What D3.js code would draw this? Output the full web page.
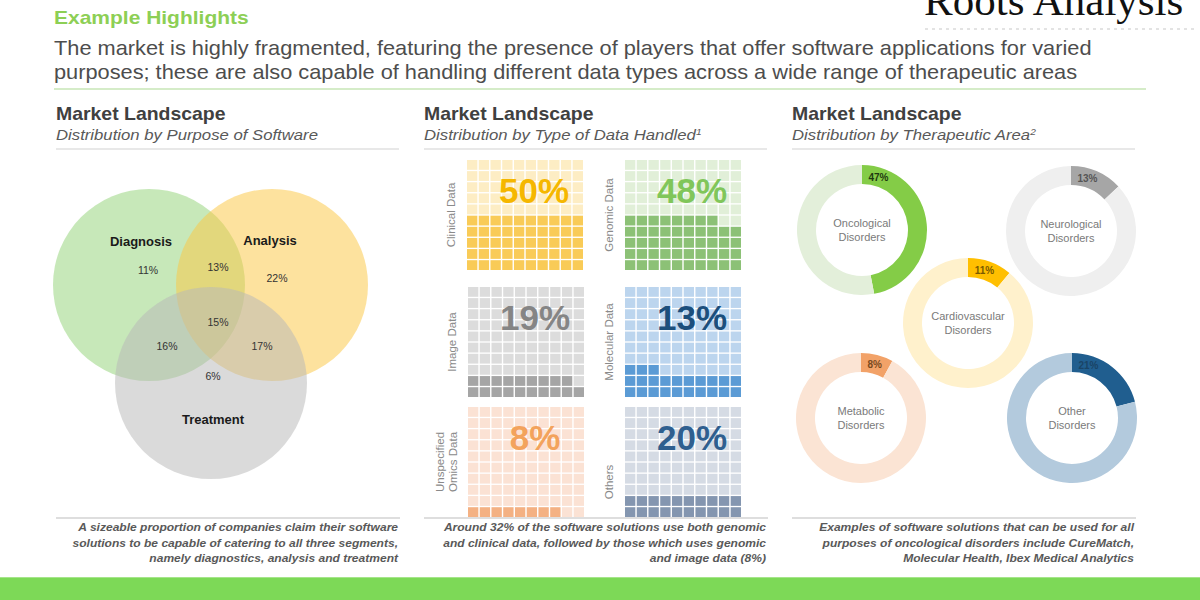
<!DOCTYPE html>
<html>
<head>
<meta charset="utf-8">
<script src="https://cdn.jsdelivr.net/npm/d3@7"></script>
<style>
  html, body { margin: 0; padding: 0; background: #ffffff; }
  svg { display: block; font-family: "Liberation Sans", Arial, sans-serif; }
</style>
</head>
<body>
<svg id="chart" width="1200" height="600"></svg>
<script>
// ---------------- DATA ----------------
const headline = "Example Highlights";
const summaryLines = [
  "The market is highly fragmented, featuring the presence of players that offer software applications for varied",
  "purposes; these are also capable of handling different data types across a wide range of therapeutic areas"
];

// Panel 1 – Venn (purpose of software)
const vennSets = ["Diagnosis", "Analysis", "Treatment"];
const vennRegions = ["D", "DA", "A", "DAT", "DT", "AT", "T"];
const vennRegionValues = [11, 13, 22, 15, 16, 17, 6];

// Panel 2 – Waffles (type of data handled)
const dataTypes = ["Clinical Data", "Genomic Data", "Image Data", "Molecular Data", "Unspecified Omics Data", "Others"];
const dataShares = [50, 48, 19, 13, 8, 20];
const dataCellsDrawn = [50, 48, 19, 23, 8, 20];   // filled cells as shown in the picture

// Panel 3 – Donuts (therapeutic area)
const areas = ["Oncological Disorders", "Neurological Disorders", "Cardiovascular Disorders", "Metabolic Disorders", "Other Disorders"];
const areaShares = [47, 13, 11, 8, 21];

const footnotes = [
  ["A sizeable proportion of companies claim their software", "solutions to be capable of catering to all three segments,", "namely diagnostics, analysis and treatment"],
  ["Around 32% of the software solutions use both genomic", "and clinical data, followed by those which uses genomic", "and image data (8%)"],
  ["Examples of software solutions that can be used for all", "purposes of oncological disorders include CureMatch,", "Molecular Health, Ibex Medical Analytics"]
];

// ---------------- DRAW ----------------
const svg = d3.select("#chart");

// horizontally stretched text helper (anchor point stays fixed)
function stretchText(parent, x, y, sx, str) {
  return parent.append("g").attr("transform", `translate(${x},${y}) scale(${sx},1)`)
    .append("text").attr("x", 0).attr("y", 0).text(str);
}

// logo
svg.append("text").attr("x", 924).attr("y", 15)
  .attr("font-family", "'Liberation Serif', 'DejaVu Serif', serif")
  .attr("font-size", 43).attr("fill", "#111").text("Roots Analysis");
svg.append("line").attr("x1", 925).attr("x2", 1195).attr("y1", 29).attr("y2", 29)
  .attr("stroke", "#c8c8c8").attr("stroke-width", 1.2).attr("stroke-dasharray", "3,4");

// headline & summary
stretchText(svg, 54, 24, 1.2, headline).attr("font-size", 17.5).attr("font-weight", "bold").attr("fill", "#8dcf55");
summaryLines.forEach((l, i) => {
  stretchText(svg, 54, 55 + i * 24, 1.1, l).attr("font-size", 19.8).attr("fill", "#4d4d4d");
});
svg.append("line").attr("x1", 54).attr("x2", 1146).attr("y1", 89).attr("y2", 89)
  .attr("stroke", "#d5ecc8").attr("stroke-width", 2);

// panel headers
const panelX = [56, 424, 792];
const panelSubs = ["Distribution by Purpose of Software", "Distribution by Type of Data Handled", "Distribution by Therapeutic Area"];
const panelSup = ["", "1", "2"];
panelX.forEach((x, i) => {
  stretchText(svg, x, 120, 1.08, "Market Landscape").attr("font-size", 18).attr("font-weight", "bold").attr("fill", "#404040");
  const t = stretchText(svg, x, 140, 1.13, panelSubs[i]).attr("font-size", 14.8).attr("font-style", "italic").attr("fill", "#595959");
  if (panelSup[i]) t.append("tspan").attr("dy", -5).attr("font-size", 9).text(panelSup[i]);
  svg.append("line").attr("x1", x).attr("x2", x + 343).attr("y1", 149).attr("y2", 149)
    .attr("stroke", "#e0e0e0").attr("stroke-width", 1.5);
  svg.append("line").attr("x1", x).attr("x2", x + 344).attr("y1", 518).attr("y2", 518)
    .attr("stroke", "#dedede").attr("stroke-width", 2);
  footnotes[i].forEach((l, j) => {
    stretchText(svg, x + 342, 531 + j * 15.5, 1.17, l).attr("text-anchor", "end")
      .attr("font-size", 10.3).attr("font-style", "italic").attr("font-weight", "bold").attr("fill", "#595959");
  });
});

// ---- Venn ----
const vennR = 96;
const vennCenters = { Diagnosis: [149, 285], Analysis: [272, 285], Treatment: [211, 383] };
const vennFill = { Diagnosis: "#93d379", Analysis: "#fbc845", Treatment: "#b9b9b9" };
const gV = svg.append("g");
gV.selectAll("circle").data(vennSets).join("circle")
  .attr("cx", d => vennCenters[d][0]).attr("cy", d => vennCenters[d][1]).attr("r", vennR)
  .attr("fill", d => vennFill[d]).attr("fill-opacity", 0.52);
const setLabelOffset = { Diagnosis: [-8, -39], Analysis: [-2, -40], Treatment: [2, 41] };
gV.selectAll("text.setl").data(vennSets).join("text").attr("class", "setl")
  .attr("x", d => vennCenters[d][0] + setLabelOffset[d][0])
  .attr("y", d => vennCenters[d][1] + setLabelOffset[d][1])
  .attr("text-anchor", "middle").attr("font-size", 13).attr("font-weight", "bold").attr("fill", "#1a1a1a")
  .text(d => d);
const regionPos = {
  D: [148, 274], DA: [218, 271], A: [277, 282], DAT: [218, 326],
  DT: [167, 350], AT: [262, 350], T: [213, 380]
};
gV.selectAll("text.reg").data(vennRegions).join("text").attr("class", "reg")
  .attr("x", d => regionPos[d][0]).attr("y", d => regionPos[d][1])
  .attr("text-anchor", "middle").attr("font-size", 10.5).attr("fill", "#333")
  .text((d, i) => vennRegionValues[i] + "%");

// ---- Waffles ----
const waffleStyle = [
  { bg: "#fdedc4", fg: "#f9cb57", txt: "#f5b700", lab: "#8a8a8a" },
  { bg: "#e1efd8", fg: "#8cc176", txt: "#80c65a", lab: "#8a8a8a" },
  { bg: "#dcdcdc", fg: "#a5a5a5", txt: "#858585", lab: "#8a8a8a" },
  { bg: "#bcd5ee", fg: "#5b9bd5", txt: "#1c4f7c", lab: "#8a8a8a" },
  { bg: "#fbe2d4", fg: "#f4b183", txt: "#f3a35c", lab: "#8a8a8a" },
  { bg: "#d5dbe4", fg: "#8496b0", txt: "#2f5f8f", lab: "#8a8a8a" }
];
const waffleOrigin = [[467, 160], [625, 160], [468, 287], [625, 287], [468, 407], [625, 407]];
const wW = 116, wH = 110;
const cx = d3.scaleBand().domain(d3.range(10)).range([0, wW]).paddingInner(0.12);
const cy = d3.scaleBand().domain(d3.range(10)).range([wH, 0]).paddingInner(0.12);
dataTypes.forEach((name, i) => {
  const [ox, oy] = waffleOrigin[i];
  const g = svg.append("g").attr("transform", `translate(${ox},${oy})`);
  g.append("rect").attr("x", 0).attr("y", 0).attr("width", wW).attr("height", wH).attr("fill", "#ffffff");
  const cells = d3.range(100).map(k => ({ col: k % 10, row: Math.floor(k / 10), on: k < dataCellsDrawn[i] }));
  g.selectAll("rect.cell").data(cells).join("rect").attr("class", "cell")
    .attr("x", d => cx(d.col)).attr("y", d => cy(d.row))
    .attr("width", cx.bandwidth()).attr("height", cy.bandwidth())
    .attr("fill", d => d.on ? waffleStyle[i].fg : waffleStyle[i].bg);
  g.append("text").attr("x", 67).attr("y", 43).attr("text-anchor", "middle")
    .attr("font-size", 35).attr("font-weight", "bold").attr("fill", waffleStyle[i].txt)
    .text(dataShares[i] + "%");
  // rotated label
  const lines = name === "Unspecified Omics Data" ? ["Unspecified", "Omics Data"] : [name];
  const ly = name === "Others" ? 75 : (name === "Unspecified Omics Data" ? 55 : wH / 2);
  const lt = g.append("text").attr("transform", `translate(-12,${ly}) rotate(-90)`)
    .attr("text-anchor", "middle").attr("font-size", 11.5).attr("fill", waffleStyle[i].lab);
  lines.forEach((l, j) => lt.append("tspan").attr("x", 0)
    .attr("dy", j === 0 ? (lines.length > 1 ? -12 : 0) : 13).text(l));
});

// ---- Donuts ----
const donutCenters = [[862, 230], [1071, 231], [968, 323], [861, 418], [1072, 418]];
const donutOuter = 65, donutThick = 19;
const donutStyle = [
  { bg: "#e3efda", fg: "#84cc47", lab: "#1f3a10" },
  { bg: "#efefef", fg: "#a6a6a6", lab: "#555" },
  { bg: "#fff1cc", fg: "#ffbf00", lab: "#7a5a00" },
  { bg: "#fbe4d4", fg: "#f2a268", lab: "#7a4a20" },
  { bg: "#b3cadd", fg: "#205e8f", lab: "#1a4466" }
];
const pie = d3.pie().sort(null).value(d => d);
const arc = d3.arc().innerRadius(donutOuter - donutThick).outerRadius(donutOuter);
areas.forEach((name, i) => {
  const [x, y] = donutCenters[i];
  const g = svg.append("g").attr("transform", `translate(${x},${y})`);
  const arcs = pie([areaShares[i], 100 - areaShares[i]]);
  g.selectAll("path").data(arcs).join("path").attr("d", arc)
    .attr("fill", (d, j) => j === 0 ? donutStyle[i].fg : donutStyle[i].bg);
  const a = Math.min((arcs[0].startAngle + arcs[0].endAngle) / 2, 0.3);
  const rr = donutOuter - donutThick / 2;
  g.append("text").attr("x", Math.sin(a) * rr).attr("y", -Math.cos(a) * rr + 4)
    .attr("text-anchor", "middle").attr("font-size", 10).attr("font-weight", "bold")
    .attr("fill", donutStyle[i].lab).text(areaShares[i] + "%");
  const words = name.split(" ");
  const lt = g.append("text").attr("text-anchor", "middle").attr("font-size", 11).attr("fill", "#7a7a7a");
  lt.append("tspan").attr("x", 0).attr("y", -3).text(words[0]);
  lt.append("tspan").attr("x", 0).attr("y", 11).text(words.slice(1).join(" "));
});

// bottom green band
svg.append("rect").attr("x", 0).attr("y", 577).attr("width", 1200).attr("height", 23).attr("fill", "#7dd957");
svg.append("line").attr("x1", 0).attr("x2", 1200).attr("y1", 577.5).attr("y2", 577.5)
  .attr("stroke", "#a6e58a").attr("stroke-width", 1);
</script>
</body>
</html>
